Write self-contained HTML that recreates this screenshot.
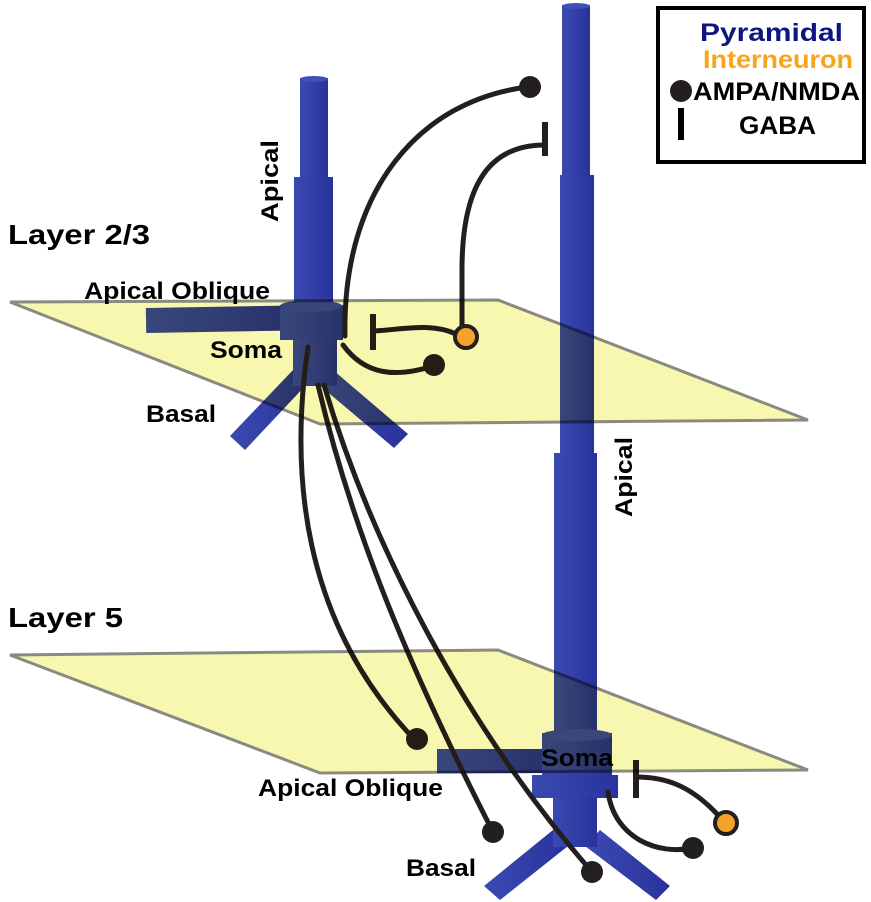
<!DOCTYPE html>
<html><head><meta charset="utf-8"><style>
html,body{margin:0;padding:0;background:#fff}
svg{display:block}
text{font-family:"Liberation Sans",Arial,sans-serif;font-weight:bold}
.pl{mix-blend-mode:multiply}
</style></head><body>
<svg width="871" height="902" viewBox="0 0 871 902">
<defs>
<linearGradient id="cyl" x1="0" x2="1" y1="0" y2="0">
<stop offset="0" stop-color="#3a49b0"/><stop offset="0.45" stop-color="#3340a8"/><stop offset="1" stop-color="#28329a"/>
</linearGradient>
</defs>
<g fill="url(#cyl)">
<rect x="300" y="78" width="28" height="102"/>
<ellipse cx="314" cy="79" rx="14" ry="3" fill="#4050b8"/>
<rect x="294" y="177" width="39" height="128"/>
<rect x="146" y="308" width="146" height="25" transform="rotate(-1 146 320)"/>
<polygon points="293,370 307,384 245,450 230,436"/>
<polygon points="318,384 333,370 408,434 394,448"/>
<rect x="293" y="336" width="44" height="50"/>
<rect x="280" y="305" width="63" height="35"/>
<ellipse cx="311" cy="306" rx="31" ry="6" fill="#3b48ae"/>
</g>
<g fill="url(#cyl)">
<rect x="562" y="5" width="28" height="172"/>
<ellipse cx="576" cy="6" rx="14" ry="3" fill="#4050b8"/>
<rect x="560" y="175" width="34" height="280"/>
<rect x="554" y="453" width="43" height="285"/>
<rect x="437" y="749" width="110" height="24"/>
<polygon points="553,830 568,846 500,900 484,886"/>
<polygon points="585,846 600,830 670,886 656,900"/>
<rect x="553" y="795" width="44" height="52"/>
<rect x="532" y="775" width="86" height="23"/>
<rect x="542" y="733" width="70" height="45"/>
<ellipse cx="577" cy="735" rx="35" ry="6" fill="#3d49b0"/>
</g>
<g fill="none" stroke="#231f20" stroke-width="5" stroke-linecap="round">
<path d="M345,336 C342,190 420,100 528,87"/>
<path d="M462,327 L462,270 C462,170 500,145 545,145"/>
<path d="M456,334 C430,322 400,330 373,331"/>
<path d="M343,345 C365,375 395,378 433,366"/>
<path d="M308,347 C290,470 300,620 415,740"/>
<path d="M318,385 C350,520 400,650 493,832"/>
<path d="M324,385 C370,540 460,720 592,872"/>
<path d="M608,792 C615,840 660,855 692,848"/>
<path d="M718,815 C690,785 665,777 636,777"/>
</g>
<g fill="#231f20">
<circle cx="530" cy="87" r="11"/>
<rect x="542" y="122" width="6" height="34"/>
<rect x="370" y="314" width="6" height="36"/>
<circle cx="434" cy="365" r="11"/>
<circle cx="417" cy="739" r="11"/>
<circle cx="493" cy="832" r="11"/>
<circle cx="592" cy="872" r="11"/>
<circle cx="693" cy="848" r="11"/>
<rect x="633" y="760" width="6" height="38"/>
</g>
<polygon class="pl" points="10,302 498,300 808,420 320,424" fill="#f7f7b0" stroke="#8a8a80" stroke-width="3"/>
<polygon class="pl" points="10,655 498,650 808,770 320,773" fill="#f7f7b0" stroke="#8a8a80" stroke-width="3"/>
<circle cx="466" cy="337" r="11" fill="#f6a12a" stroke="#231f20" stroke-width="4"/>
<circle cx="726" cy="823" r="11" fill="#f6a12a" stroke="#231f20" stroke-width="4"/>
<g font-size="24" fill="#000" lengthAdjust="spacingAndGlyphs">
<text x="8" y="244" font-size="28" textLength="142" lengthAdjust="spacingAndGlyphs">Layer 2/3</text>
<text x="8" y="627" font-size="28" textLength="115" lengthAdjust="spacingAndGlyphs">Layer 5</text>
<text transform="translate(278,222) rotate(-90)" textLength="82" lengthAdjust="spacingAndGlyphs">Apical</text>
<text x="84" y="299" textLength="186" lengthAdjust="spacingAndGlyphs">Apical Oblique</text>
<text x="210" y="358" textLength="72" lengthAdjust="spacingAndGlyphs">Soma</text>
<text x="146" y="422" textLength="70" lengthAdjust="spacingAndGlyphs">Basal</text>
<text transform="translate(632,517) rotate(-90)" textLength="80" lengthAdjust="spacingAndGlyphs">Apical</text>
<text x="541" y="766" textLength="72" lengthAdjust="spacingAndGlyphs">Soma</text>
<text x="258" y="796" textLength="185" lengthAdjust="spacingAndGlyphs">Apical Oblique</text>
<text x="406" y="876" textLength="70" lengthAdjust="spacingAndGlyphs">Basal</text>
</g>
<g>
<rect x="658" y="8" width="206" height="154" fill="#fff" stroke="#000" stroke-width="4"/>
<text x="700" y="41" font-size="25" fill="#0d1680" textLength="143" lengthAdjust="spacingAndGlyphs">Pyramidal</text>
<text x="703" y="68" font-size="25" fill="#f8a51b" textLength="150" lengthAdjust="spacingAndGlyphs">Interneuron</text>
<circle cx="681" cy="91" r="11" fill="#231f20"/>
<text x="693" y="100" font-size="25" textLength="167" lengthAdjust="spacingAndGlyphs">AMPA/NMDA</text>
<rect x="678" y="108" width="6" height="32" fill="#000"/>
<text x="739" y="134" font-size="25" textLength="77" lengthAdjust="spacingAndGlyphs">GABA</text>
</g>
</svg>
</body></html>
